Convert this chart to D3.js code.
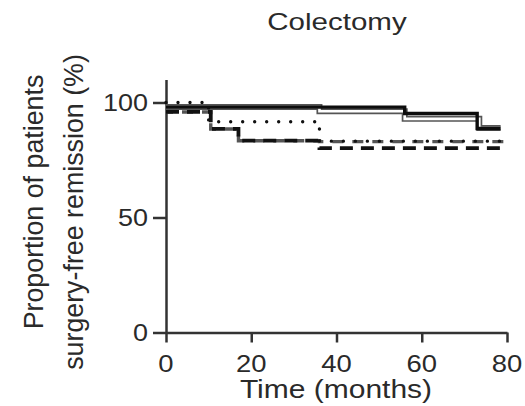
<!DOCTYPE html>
<html>
<head>
<meta charset="utf-8">
<script src="https://cdn.jsdelivr.net/npm/d3@7"></script>
<style>
  body { margin: 0; background: #fff; }
  svg { display: block; }
  text { font-family: "Liberation Sans", Arial, Helvetica, sans-serif; fill: #2a2a2a; }
</style>
</head>
<body>
<svg id="chart" width="525" height="406"></svg>
<script>
// Axis ticks
const xTicks = [0, 20, 40, 60, 80];
const yTicks = [0, 50, 100];

// Kaplan-Meier step curves: event times (months) and remission (%)
const solidBlackT = [0, 56, 73, 78.5];
const solidBlackV = [98, 95.2, 88.7, 88.7];

const solidGrayT = [0, 36, 56, 73.5, 78.5];
const solidGrayV = [98, 96.2, 92.9, 88.9, 88.9];

const dottedT = [0, 10, 36, 80];
const dottedV = [100, 91.6, 83.2, 83.2];

const dashedGrayT = [0, 10.5, 17, 36, 80];
const dashedGrayV = [95.9, 88.5, 83.4, 83.0, 83.0];

const dashedBlackT = [0, 10.5, 17, 36, 80];
const dashedBlackV = [95.9, 88.5, 83.4, 80.2, 80.2];

const svg = d3.select("#chart");

const x = d3.scaleLinear().domain([0, 80]).range([166, 507]);
const y = d3.scaleLinear().domain([0, 110]).range([332.5, 79.5]);

const zip = (t, v) => t.map((d, i) => [d, v[i]]);
const step = d3.line()
  .x(d => x(d[0]))
  .y(d => y(d[1]))
  .curve(d3.curveStepAfter);

// Text helper with horizontal stretch
function label(txt, px, py, size, sx, anchor) {
  return svg.append("text")
    .attr("transform", `translate(${px},${py}) scale(${sx},1)`)
    .attr("text-anchor", anchor)
    .attr("font-size", size)
    .text(txt);
}

// Axes
const axisColor = "#333";
const yAxis = svg.append("g")
  .attr("transform", `translate(${x(0)},0)`)
  .call(d3.axisLeft(y).tickValues(yTicks).tickSize(13).tickSizeOuter(0).tickFormat(""));
const xAxis = svg.append("g")
  .attr("transform", `translate(0,${y(0)})`)
  .call(d3.axisBottom(x).tickValues(xTicks).tickSize(10).tickSizeOuter(0).tickFormat(""));
[yAxis, xAxis].forEach(g => {
  g.select(".domain").attr("stroke", axisColor).attr("stroke-width", 2.5);
  g.selectAll(".tick line").attr("stroke", axisColor).attr("stroke-width", 2.5);
});

// Tick labels
yTicks.forEach(v => label(String(v), 148, y(v) + 8.5, 24.5, 1.1, "end"));
xTicks.forEach(v => label(String(v), x(v), 372, 24.5, 1.12, "middle"));

// Titles
label("Colectomy", 337, 30, 24, 1.23, "middle");
label("Time (months)", 336, 398, 25, 1.2, "middle");
svg.append("text")
  .attr("transform", "translate(43,202) rotate(-90)")
  .attr("text-anchor", "middle")
  .attr("font-size", 26.8)
  .text("Proportion of patients");
svg.append("text")
  .attr("transform", "translate(83,212) rotate(-90)")
  .attr("text-anchor", "middle")
  .attr("font-size", 26.8)
  .text("surgery-free remission (%)");

// Curves
const curves = svg.append("g").attr("fill", "none");

// hollow gray curve: gray outline with white core
curves.append("path")
  .attr("d", step(zip(solidGrayT, solidGrayV)))
  .attr("stroke", "#555").attr("stroke-width", 6);
curves.append("path")
  .attr("d", step(zip(solidGrayT, solidGrayV)))
  .attr("stroke", "#fff").attr("stroke-width", 2.6);

curves.append("path")
  .attr("d", step(zip(dashedGrayT, dashedGrayV)))
  .attr("stroke", "#555").attr("stroke-width", 3.4)
  .attr("stroke-dasharray", "11 9").attr("stroke-dashoffset", 4);

curves.append("path")
  .attr("d", step(zip(dashedBlackT, dashedBlackV)))
  .attr("stroke", "#111").attr("stroke-width", 3.8)
  .attr("stroke-dasharray", "13 8");

curves.append("path")
  .attr("d", step(zip(dottedT, dottedV)))
  .attr("stroke", "#111").attr("stroke-width", 3.4)
  .attr("stroke-linecap", "round")
  .attr("stroke-dasharray", "0 12");

curves.append("path")
  .attr("d", step(zip(solidBlackT, solidBlackV)))
  .attr("stroke", "#0d0d0d").attr("stroke-width", 3.4);
</script>
</body>
</html>
